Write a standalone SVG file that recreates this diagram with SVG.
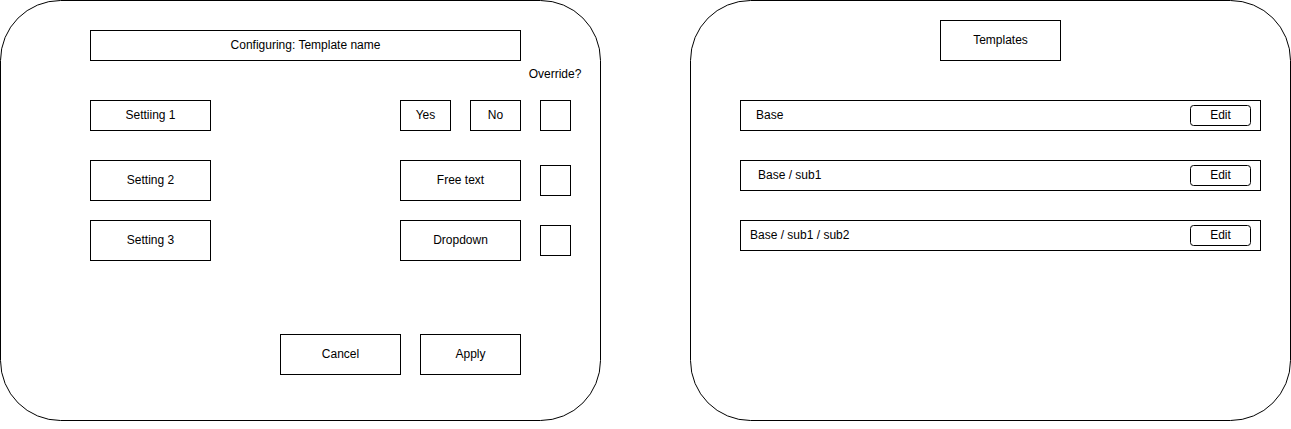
<svg xmlns="http://www.w3.org/2000/svg" width="1291" height="429" viewBox="0 0 1291 429">
<style>
.b{fill:#fff;stroke:#000;stroke-width:1}
.t{font-family:"Liberation Sans",Arial,sans-serif;font-size:12px;fill:#000;text-anchor:middle;dominant-baseline:central}
.l{text-anchor:start}
</style>
<rect width="1291" height="429" fill="#fff"/>
<g id="config-panel">
<rect class="b" x="0.5" y="0.5" width="600" height="420" rx="60" ry="60"/>
</g>
<g id="config-title"><rect class="b" x="90.5" y="30.5" width="430" height="30"/><text class="t" x="305.5" y="44.5">Configuring: Template name</text></g>
<g id="override-label"><text class="t" x="555" y="74">Override?</text></g>
<g id="setting1"><rect class="b" x="90.5" y="100.5" width="120" height="30"/><text class="t" x="150.5" y="114.5">Settiing 1</text></g>
<g id="yes"><rect class="b" x="400.5" y="100.5" width="50" height="30"/><text class="t" x="425.5" y="114.5">Yes</text></g>
<g id="no"><rect class="b" x="470.5" y="100.5" width="50" height="30"/><text class="t" x="495.5" y="114.5">No</text></g>
<g id="override1"><rect class="b" x="540.5" y="100.5" width="30" height="30"/></g>
<g id="setting2"><rect class="b" x="90.5" y="160.5" width="120" height="40"/><text class="t" x="150.5" y="179.5">Setting 2</text></g>
<g id="freetext"><rect class="b" x="400.5" y="160.5" width="120" height="40"/><text class="t" x="460.5" y="179.5">Free text</text></g>
<g id="override2"><rect class="b" x="540.5" y="165.5" width="30" height="30"/></g>
<g id="setting3"><rect class="b" x="90.5" y="220.5" width="120" height="40"/><text class="t" x="150.5" y="239.5">Setting 3</text></g>
<g id="dropdown"><rect class="b" x="400.5" y="220.5" width="120" height="40"/><text class="t" x="460.5" y="239.5">Dropdown</text></g>
<g id="override3"><rect class="b" x="540.5" y="225.5" width="30" height="30"/></g>
<g id="cancel"><rect class="b" x="280.5" y="334.5" width="120" height="40"/><text class="t" x="340.5" y="353.5">Cancel</text></g>
<g id="apply"><rect class="b" x="420.5" y="334.5" width="100" height="40"/><text class="t" x="470.5" y="353.5">Apply</text></g>

<g id="templates-panel">
<rect class="b" x="690.5" y="0.5" width="600" height="420" rx="60" ry="60"/>
</g>
<g id="templates-title"><rect class="b" x="940.5" y="20.5" width="120" height="40"/><text class="t" x="1000.5" y="39.5">Templates</text></g>
<g id="row-base"><rect class="b" x="740.5" y="100.5" width="520" height="30"/><text class="t l" x="756" y="114.5">Base</text></g>
<g id="edit-base"><rect class="b" x="1190.5" y="105.5" width="60" height="20" rx="3" ry="3"/><text class="t" x="1220.5" y="114.5">Edit</text></g>
<g id="row-sub1"><rect class="b" x="740.5" y="160.5" width="520" height="30"/><text class="t l" x="758" y="174.5">Base / sub1</text></g>
<g id="edit-sub1"><rect class="b" x="1190.5" y="165.5" width="60" height="20" rx="3" ry="3"/><text class="t" x="1220.5" y="174.5">Edit</text></g>
<g id="row-sub2"><rect class="b" x="740.5" y="220.5" width="520" height="30"/><text class="t l" x="750" y="234.5">Base / sub1 / sub2</text></g>
<g id="edit-sub2"><rect class="b" x="1190.5" y="225.5" width="60" height="20" rx="3" ry="3"/><text class="t" x="1220.5" y="234.5">Edit</text></g>
<g id="connectors"></g>
</svg>
